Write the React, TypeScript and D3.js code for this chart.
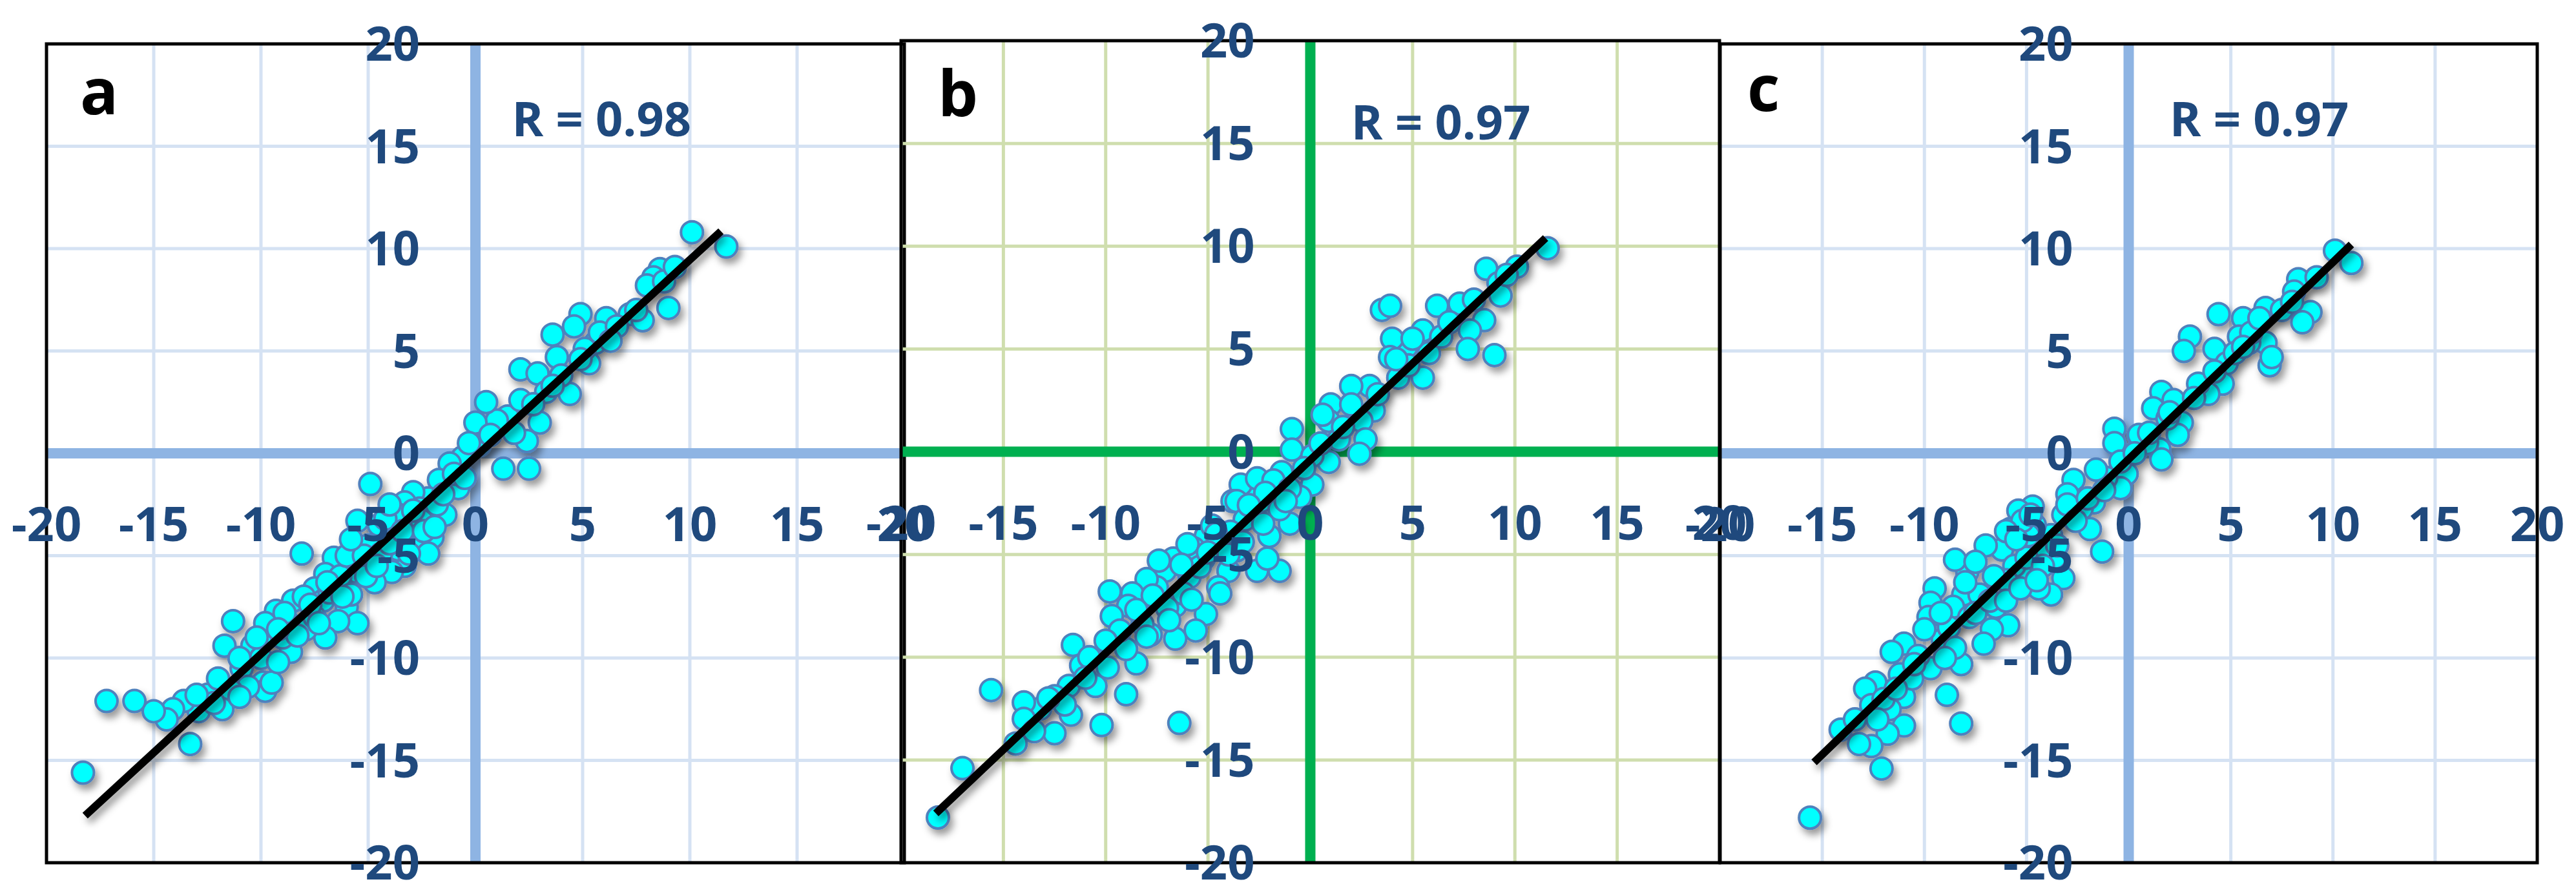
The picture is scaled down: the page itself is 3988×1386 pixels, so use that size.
import React from "react";
import * as d3 from "d3";

// ---------- data ----------
const TICKS: number[] = [-20, -15, -10, -5, 0, 5, 10, 15, 20];
const PANEL_LETTERS: string[] = ["a", "b", "c"];
const R_LABELS: string[] = ["R = 0.98", "R = 0.97", "R = 0.97"];

const POINTS_A: [number, number][] = [
  [10.1, 10.8], [11.7, 10.1], [8.6, 9.0], [8.3, 8.6], [9.0, 7.1], [8.0, 8.2], [7.2, 6.8], [7.8, 6.5],
  [6.1, 6.6], [4.9, 6.8], [4.6, 6.2], [5.6, 5.4], [5.3, 4.4], [5.1, 5.1], [3.6, 5.8], [3.8, 4.7],
  [4.4, 2.9], [2.1, 4.1], [2.9, 3.9], [3.0, 1.5], [2.4, 0.6], [2.5, -0.75], [1.3, -0.75], [1.5, 1.8],
  [1.0, 1.6], [0.5, 2.5], [0.0, 1.5], [2.1, 2.6], [0.2, 0.4], [-0.6, -0.2], [-1.2, -0.5], [-0.8, -1.7],
  [-1.7, -1.3], [-2.2, -2.2], [-2.9, -1.9], [-3.3, -2.4], [-4.9, -1.5], [-3.6, -3.0], [-2.0, -3.0],
  [-2.0, -4.1], [-2.8, -4.4], [-2.2, -4.9], [-3.9, -4.0], [-5.5, -3.3], [-4.5, -3.5], [-3.3, -5.5],
  [-3.9, -5.8], [-4.7, -6.3], [-5.5, -5.8], [-6.6, -5.1], [-7.0, -5.9], [-6.0, -7.5], [-5.5, -8.3],
  [-6.4, -8.2], [-7.0, -9.0], [-8.1, -4.9], [-7.5, -6.6], [-8.5, -7.2], [-9.3, -7.7], [-8.7, -8.3],
  [-7.9, -8.6], [-8.6, -9.7], [-9.5, -8.9], [-9.8, -8.3], [-10.4, -9.4], [-11.3, -8.2], [-11.7, -9.4],
  [-10.9, -10.5], [-9.9, -11.2], [-9.8, -11.6], [-10.6, -11.4], [-11.4, -11.6], [-11.8, -12.5],
  [-12.5, -11.8], [-12.9, -12.6], [-13.6, -12.1], [-14.1, -12.5], [-14.4, -13.0], [-15.0, -12.6],
  [-15.9, -12.1], [-17.2, -12.1], [-13.3, -14.2], [-18.3, -15.6], [-9.5, -11.2], [-1.4, -3.0],
  [-2.6, -2.7], [-3.6, -4.7], [-4.9, -5.2], [-7.1, -7.2], [-6.3, -6.0], [-5.0, -4.5], [-4.2, -3.2],
  [-3.0, -3.6], [-1.0, -1.0], [-0.3, 0.5], [0.7, 0.9], [1.8, 1.0], [3.3, 3.0], [4.0, 3.8], [5.8, 5.9],
  [6.6, 6.2], [8.8, 8.4], [9.3, 9.1], [-8.0, -7.0], [-9.0, -9.0], [-10.0, -10.0], [-12.0, -11.0],
  [-11.0, -11.9], [-6.8, -6.8], [-5.8, -6.9], [-4.4, -4.9], [-2.5, -3.3], [-1.8, -2.5], [-7.5, -8.0],
  [-8.3, -8.9], [-6.0, -5.0], [-5.2, -5.0], [-4.0, -4.4], [-3.4, -3.8], [-2.9, -2.8], [-6.9, -6.3],
  [-7.7, -7.4], [-8.9, -7.8], [-9.2, -8.6], [-6.2, -7.0], [-5.1, -6.0], [-4.6, -5.5], [-3.1, -4.9],
  [-2.4, -3.8], [-1.5, -2.0], [-0.5, -1.2], [-7.3, -8.3], [-10.2, -9.0], [-11.0, -10.0], [-12.2, -12.2],
  [-13.0, -11.8], [-9.2, -10.2], [-4.0, -2.5], [-5.8, -4.2], [-1.9, -3.6], [3.6, 3.3], [4.9, 4.6],
  [6.3, 5.5], [7.5, 7.0], [2.7, 2.4],
];

const POINTS_B: [number, number][] = [
  [11.6, 9.9], [10.1, 9.0], [8.6, 8.9], [9.2, 8.2], [9.3, 7.6], [8.5, 6.4], [7.8, 5.9], [7.7, 5.0],
  [9.0, 4.7], [7.3, 7.2], [6.2, 7.1], [5.5, 5.9], [5.8, 4.8], [5.5, 3.6], [4.7, 5.1], [4.0, 5.5],
  [3.9, 4.6], [4.3, 3.6], [3.5, 6.9], [3.9, 7.1], [2.9, 3.2], [3.1, 2.0], [2.5, 1.5], [2.7, 0.6],
  [2.4, -0.1], [2.0, 3.2], [1.0, 2.3], [0.9, 1.5], [1.4, 0.6], [0.9, -0.5], [-0.9, 1.1], [-0.9, 0.1],
  [0.1, -0.2], [0.1, -1.6], [-0.5, -2.2], [-1.0, -3.5], [-1.5, -5.8], [-2.0, -4.1], [-2.4, -2.4],
  [-2.9, -1.9], [-3.4, -1.6], [-3.8, -2.4], [-2.9, -3.0], [-3.6, -4.8], [-4.0, -5.8], [-4.5, -6.6],
  [-4.4, -6.9], [-5.1, -4.1], [-5.2, -5.2], [-5.7, -4.7], [-5.9, -6.1], [-5.1, -7.9], [-5.6, -8.7],
  [-6.6, -9.1], [-6.6, -7.5], [-6.7, -5.2], [-7.1, -5.8], [-7.5, -6.6], [-7.8, -8.9], [-8.0, -6.2],
  [-8.7, -6.9], [-8.9, -7.5], [-9.7, -8.0], [-9.8, -6.8], [-9.4, -9.1], [-8.5, -10.3], [-9.0, -11.8],
  [-9.9, -10.5], [-10.5, -11.4], [-10.2, -13.3], [-11.2, -10.4], [-11.6, -9.4], [-11.8, -11.4],
  [-11.7, -12.8], [-12.5, -11.9], [-13.2, -12.5], [-12.5, -13.7], [-14.0, -12.2], [-14.0, -13.0],
  [-14.4, -14.2], [-15.6, -11.6], [-17.0, -15.4], [-18.2, -17.8], [-6.4, -13.2], [-2.6, -5.8],
  [-2.1, -5.2], [-3.6, -2.4], [-2.6, -1.3], [-1.4, -1.0], [-1.8, -1.4], [-3.2, -3.3], [-4.3, -4.6],
  [-5.4, -5.6], [-6.2, -6.9], [-7.0, -7.6], [-8.2, -8.4], [-9.0, -9.6], [-10.8, -10.0], [-12.0, -12.3],
  [-13.5, -13.6], [-4.8, -3.6], [-3.9, -3.9], [0.5, 0.4], [1.6, 1.2], [3.3, 2.8], [4.8, 4.2],
  [6.4, 5.6], [8.0, 7.4], [9.6, 8.6], [-1.5, -2.8], [-6.0, -4.5], [-7.4, -5.3], [-2.2, -2.0],
  [-3.0, -2.6], [-4.6, -4.0], [-5.0, -4.9], [-6.3, -5.5], [-7.7, -7.0], [-8.5, -7.7], [-9.3, -8.7],
  [-10.0, -9.2], [-11.0, -11.0], [-12.8, -12.0], [-4.0, -5.0], [-3.3, -4.4], [-6.9, -8.2], [-5.8, -7.2],
  [-8.0, -9.0], [-1.0, -1.8], [-0.3, -0.8], [0.6, 1.8], [2.0, 2.3], [4.2, 4.5], [5.0, 5.5], [6.8, 6.3],
  [-2.3, -3.5], [-1.2, -2.4],
];

const POINTS_C: [number, number][] = [
  [10.1, 9.9], [10.9, 9.3], [8.3, 8.5], [8.9, 6.9], [8.5, 6.4], [8.1, 7.9], [6.7, 7.1], [5.6, 6.6],
  [4.4, 6.8], [6.7, 5.4], [6.9, 4.3], [7.0, 4.7], [5.9, 5.4], [5.4, 5.7], [4.2, 5.1], [4.8, 4.4],
  [4.6, 3.4], [3.9, 2.9], [3.0, 5.7], [2.7, 5.0], [1.6, 3.0], [1.2, 2.2], [2.2, 2.6], [2.6, 1.5],
  [2.4, 0.9], [1.5, 0.2], [1.6, -0.3], [0.9, 0.5], [-0.7, 1.2], [-0.7, 0.5], [-0.1, -1.0], [-0.4, -1.7],
  [-1.1, -1.2], [-1.6, -0.8], [-1.7, -2.4], [-1.9, -3.7], [-1.3, -4.8], [-2.7, -1.3], [-3.0, -2.0],
  [-3.2, -3.0], [-3.8, -4.0], [-3.6, -5.1], [-3.2, -6.1], [-3.8, -6.9], [-4.4, -6.6], [-5.1, -6.1],
  [-4.7, -2.6], [-5.4, -2.8], [-4.6, -3.5], [-5.8, -3.7], [-6.2, -4.7], [-7.0, -4.5], [-5.6, -5.5],
  [-6.5, -7.5], [-5.9, -8.4], [-6.7, -8.6], [-7.1, -9.3], [-7.9, -5.8], [-8.5, -5.2], [-8.1, -6.9],
  [-8.6, -7.5], [-7.8, -8.0], [-9.5, -6.6], [-9.7, -7.3], [-9.8, -8.0], [-9.1, -9.1], [-8.2, -10.3],
  [-9.7, -10.5], [-8.9, -11.8], [-8.2, -13.2], [-11.0, -9.3], [-11.6, -9.7], [-11.2, -10.8],
  [-11.0, -11.9], [-11.7, -12.5], [-12.4, -11.2], [-12.9, -11.5], [-12.6, -12.3], [-11.0, -13.3],
  [-11.8, -13.7], [-12.6, -14.3], [-13.2, -14.2], [-14.1, -13.5], [-12.1, -15.4], [-15.6, -17.8],
  [-0.4, -0.4], [0.5, 0.9], [1.9, 1.7], [3.4, 3.4], [5.2, 4.9], [6.0, 5.9], [7.5, 7.0], [9.2, 8.6],
  [-2.3, -2.7], [-4.2, -4.6], [-5.0, -5.1], [-6.0, -6.2], [-7.3, -6.9], [-8.8, -8.5], [-10.3, -9.9],
  [-10.6, -11.0], [-12.0, -12.0], [-13.4, -13.0], [-6.6, -6.0], [-4.9, -4.0], [-3.0, -2.5], [-7.5, -7.8],
  [-5.2, -3.3], [-4.8, -3.0], [-6.0, -3.8], [-5.5, -4.2], [-4.2, -5.5], [-3.5, -4.5], [-7.5, -5.3],
  [-8.0, -6.3], [-9.2, -7.8], [-10.0, -8.6], [-8.5, -9.5], [-9.0, -10.0], [-10.5, -10.3], [-11.4, -11.5],
  [-12.3, -13.0], [-6.8, -7.2], [-6.0, -7.2], [-5.3, -6.6], [-4.5, -6.2], [-2.6, -3.3], [-2.0, -2.2],
  [-1.2, -1.8], [0.3, 0.0], [1.0, 1.0], [2.0, 2.0], [3.2, 2.7], [4.2, 4.0], [5.6, 5.2], [6.4, 6.6],
  [8.0, 7.4],
];

// regression line end points (data units)
const FIT_A: [number, number][] = [[-18.2, -17.7], [11.45, 10.85]];
const FIT_B: [number, number][] = [[-18.3, -17.6], [11.5, 10.4]];
const FIT_C: [number, number][] = [[-15.4, -15.1], [10.9, 10.2]];

// ---------- layout / style ----------
const W = 3988;
const H = 1386;
const FONT = "'Open Sans', 'Liberation Sans', Arial, sans-serif";
const LABEL_COLOR = "#1F497D";

type PanelCfg = {
  left: number; right: number; top: number; bottom: number;
  grid: string; axis: string;
  rAt: [number, number];
  letterX: number; letterY: number;
};

const PANELS: PanelCfg[] = [
  { left: 72, right: 1400, top: 68, bottom: 1336, grid: "#D5E2F3", axis: "#8EB4E3", rAt: [1.7, 15.5], letterX: 124, letterY: 177 },
  { left: 1395, right: 2662, top: 63, bottom: 1336, grid: "#CFDEAE", axis: "#00B050", rAt: [2.0, 15.2], letterX: 1452, letterY: 180 },
  { left: 2663, right: 3928, top: 68, bottom: 1336, grid: "#D5E2F3", axis: "#8EB4E3", rAt: [2.0, 15.5], letterX: 2705, letterY: 172 },
];

const DATASETS = [POINTS_A, POINTS_B, POINTS_C];
const FITS = [FIT_A, FIT_B, FIT_C];

function Panel({ cfg, points, fit, rLabel, letter }: {
  cfg: PanelCfg; points: [number, number][]; fit: [number, number][]; rLabel: string; letter: string;
}) {
  const x = d3.scaleLinear().domain([-20, 20]).range([cfg.left, cfg.right]);
  const y = d3.scaleLinear().domain([-20, 20]).range([cfg.bottom, cfg.top]);
  const line = d3.line<[number, number]>().x((d) => x(d[0])).y((d) => y(d[1]));
  const x0 = x(0);
  const y0 = y(0);
  return (
    <g>
      {TICKS.filter((t) => t !== 0 && Math.abs(t) !== 20).map((t) => (
        <g key={"g" + t}>
          <line x1={x(t)} x2={x(t)} y1={cfg.top} y2={cfg.bottom} stroke={cfg.grid} strokeWidth={5} />
          <line x1={cfg.left} x2={cfg.right} y1={y(t)} y2={y(t)} stroke={cfg.grid} strokeWidth={5} />
        </g>
      ))}
      <line x1={x0} x2={x0} y1={cfg.top} y2={cfg.bottom} stroke={cfg.axis} strokeWidth={16} />
      <line x1={cfg.left} x2={cfg.right} y1={y0} y2={y0} stroke={cfg.axis} strokeWidth={16} />
      <rect x={cfg.left} y={cfg.top} width={cfg.right - cfg.left} height={cfg.bottom - cfg.top}
        fill="none" stroke="#000" strokeWidth={5} />
      <g filter="url(#shadow)">
        {points.map((p, i) => (
          <circle key={i} cx={x(p[0])} cy={y(p[1])} r={17} fill="#00FFFF" stroke="#4F81BD" strokeWidth={4} />
        ))}
      </g>
      <path d={line(fit) || ""} stroke="#000" strokeWidth={12} fill="none" filter="url(#shadow)" />
      <g fontFamily={FONT} fontWeight={700} fontSize={74} fill={LABEL_COLOR}>
        {TICKS.map((t) => (
          <text key={"x" + t} x={x(t)} y={y0 + 136} textAnchor="middle">{t}</text>
        ))}
        {TICKS.map((t) => (
          <text key={"y" + t} x={x0 - 86} y={y(t) + 26} textAnchor="end">{t}</text>
        ))}
        <text x={x(cfg.rAt[0])} y={y(cfg.rAt[1])}>{rLabel}</text>
      </g>
      <text x={cfg.letterX} y={cfg.letterY} fontFamily={FONT} fontWeight={700} fontSize={98} fill="#000">{letter}</text>
    </g>
  );
}

export default function App() {
  return (
    <svg width={W} height={H} viewBox={`0 0 ${W} ${H}`}
      style={{ position: "absolute", left: 0, top: 0, display: "block", background: "#fff" }}>
      <defs>
        <filter id="shadow" x="-5%" y="-5%" width="115%" height="115%">
          <feDropShadow dx={5} dy={8} stdDeviation={6} floodColor="#000" floodOpacity={0.4} />
        </filter>
      </defs>
      <rect x={0} y={0} width={W} height={H} fill="#fff" />
      {PANELS.map((cfg, i) => (
        <Panel key={i} cfg={cfg} points={DATASETS[i]} fit={FITS[i]} rLabel={R_LABELS[i]} letter={PANEL_LETTERS[i]} />
      ))}
    </svg>
  );
}
